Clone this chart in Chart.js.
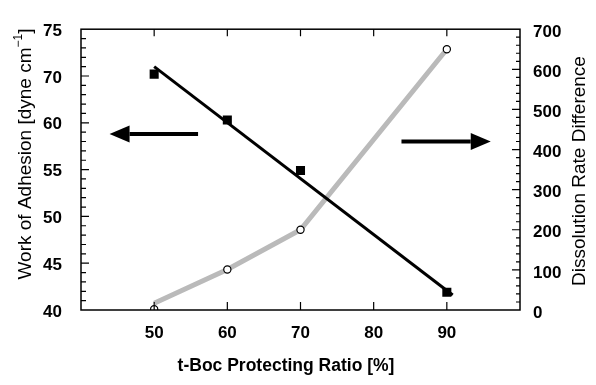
<!DOCTYPE html>
<html>
<head>
<meta charset="utf-8">
<script src="https://cdn.jsdelivr.net/npm/chart.js@4.4.0/dist/chart.umd.min.js"></script>
<style>
  html, body { margin: 0; padding: 0; background: #fff; }
</style>
</head>
<body>
<canvas id="plot" width="596" height="385"></canvas>
<script>
// t-Boc protecting ratio [%]
const ratio = [50, 60, 70, 90];
// work of adhesion, read against the left axis grid (40..70 in 6 steps)
const adhesion = [65.2, 60.3, 54.9, 41.9];
// straight fit through the adhesion points
const fitX = [50, 90.8];
const fitY = [66.0, 41.6];
// dissolution rate difference (right axis)
const dissolution = [2, 101, 200, 650];
const dissolutionLine = [17, 101, 200, 650];

// tick labels as printed in the figure
const xTicks = [50, 60, 70, 80, 90];
const leftTickLabels = ['40', '45', '50', '55', '60', '70', '75'];
const rightTickLabels = ['0', '100', '200', '300', '400', '500', '600', '700'];

const FONT = '"Liberation Sans", Arial, Helvetica, sans-serif';

let pts = (xs, ys) => xs.map((x, i) => ({x: x, y: ys[i]}));

// arrows pointing at the axis each series belongs to
const arrows = [
  {axis: 'y', tail: 56.0, tip: 43.9, at: 58.8},
  {axis: 'y2', tail: 83.8, tip: 96.0, at: 420}
];

let drawArrow = (ctx, x0, x1, y) => {
  let dir = x1 > x0 ? 1 : -1;
  let headLen = 20, headHalf = 8.5;
  ctx.beginPath();
  ctx.lineWidth = 4;
  ctx.moveTo(x0, y);
  ctx.lineTo(x1 - dir * headLen, y);
  ctx.stroke();
  ctx.beginPath();
  ctx.moveTo(x1, y);
  ctx.lineTo(x1 - dir * headLen, y - headHalf);
  ctx.lineTo(x1 - dir * headLen, y + headHalf);
  ctx.closePath();
  ctx.fill();
};

const frameAndTicks = {
  id: 'frameAndTicks',
  afterDatasetsDraw(chart) {
    const {ctx, chartArea: a, scales} = chart;
    const sx = scales.x, yl = scales.y, yr = scales.y2;
    ctx.save();
    ctx.strokeStyle = '#000';
    ctx.fillStyle = '#000';

    //marco
    ctx.lineWidth = 1.5;
    ctx.strokeRect(a.left, a.top, a.right - a.left, a.bottom - a.top);

    //marcas hacia adentro
    ctx.lineWidth = 1.2;
    ctx.beginPath();
    xTicks.forEach(v => {
      let px = sx.getPixelForValue(v);
      ctx.moveTo(px, a.bottom); ctx.lineTo(px, a.bottom - 8);
      ctx.moveTo(px, a.top); ctx.lineTo(px, a.top + 7);
    });
    for (let v = 41; v < 70; v++) {
      let py = yl.getPixelForValue(v);
      let len = v % 5 === 0 ? 8 : 5;
      ctx.moveTo(a.left, py); ctx.lineTo(a.left + len, py);
    }
    for (let v = 20; v < 700; v += 20) {
      let py = yr.getPixelForValue(v);
      let len = v % 100 === 0 ? 8 : 4;
      ctx.moveTo(a.right, py); ctx.lineTo(a.right - len, py);
    }
    ctx.stroke();

    //flechas
    arrows.forEach(ar => {
      let sc = scales[ar.axis];
      drawArrow(ctx, sx.getPixelForValue(ar.tail), sx.getPixelForValue(ar.tip), sc.getPixelForValue(ar.at));
    });

    //titulos de ejes
    ctx.textBaseline = 'middle';
    ctx.font = 'bold 17.5px ' + FONT;
    ctx.textAlign = 'center';
    ctx.fillText('t-Boc Protecting Ratio [%]', 286, 366);

    // left title with superscript
    ctx.save();
    ctx.translate(26, 154);
    ctx.rotate(-Math.PI / 2);
    let main = 'Work of Adhesion [dyne cm';
    let sup = '\u22121';
    let tail = ']';
    ctx.font = '19px ' + FONT;
    let wMain = ctx.measureText(main).width;
    let wTail = ctx.measureText(tail).width;
    ctx.font = '12px ' + FONT;
    let wSup = ctx.measureText(sup).width;
    let start = -(wMain + wSup + wTail) / 2;
    ctx.textAlign = 'left';
    ctx.font = '19px ' + FONT;
    ctx.fillText(main, start, 0);
    ctx.fillText(tail, start + wMain + wSup, 0);
    ctx.font = '12px ' + FONT;
    ctx.fillText(sup, start + wMain, -7);
    ctx.restore();

    ctx.save();
    ctx.translate(580, 171);
    ctx.rotate(-Math.PI / 2);
    ctx.textAlign = 'center';
    ctx.font = '19px ' + FONT;
    ctx.fillText('Dissolution Rate Difference', 0, 0);
    ctx.restore();

    ctx.restore();
  }
};

const tickFont = {family: FONT, size: 17, weight: 'bold'};

let config = {
  type: 'scatter',
  data: {
    datasets: [
      {
        label: 'Work of Adhesion',
        data: pts(ratio, adhesion),
        yAxisID: 'y',
        pointStyle: 'rect',
        pointRadius: 6.4,
        backgroundColor: '#000',
        borderColor: '#000',
        borderWidth: 0,
        showLine: false
      },
      {
        label: 'fit',
        data: pts(fitX, fitY),
        yAxisID: 'y',
        showLine: true,
        borderColor: '#000',
        borderWidth: 3,
        pointRadius: 0
      },
      {
        label: 'Dissolution Rate Difference',
        data: pts(ratio, dissolution),
        yAxisID: 'y2',
        pointStyle: 'circle',
        pointRadius: 3.6,
        backgroundColor: '#fff',
        borderColor: '#000',
        borderWidth: 1.2,
        showLine: false
      },
      {
        label: 'dissolution line',
        data: pts(ratio, dissolutionLine),
        yAxisID: 'y2',
        showLine: true,
        borderColor: '#bababa',
        borderWidth: 5,
        pointRadius: 0
      }
    ]
  },
  options: {
    responsive: false,
    animation: false,
    layout: {padding: {top: 15, left: 0, right: 0, bottom: 0}},
    plugins: {
      legend: {display: false},
      tooltip: {enabled: false}
    },
    scales: {
      x: {
        type: 'linear',
        min: 40,
        max: 100,
        grid: {display: false, drawTicks: false},
        border: {display: false},
        ticks: {
          stepSize: 10,
          padding: 13,
          color: '#000',
          font: tickFont,
          maxRotation: 0,
          callback: v => xTicks.includes(v) ? String(v) : ''
        },
        afterFit: s => { s.height = 75; }
      },
      y: {
        position: 'left',
        min: 40,
        max: 70,
        grid: {display: false, drawTicks: false},
        border: {display: false},
        ticks: {
          stepSize: 5,
          padding: 19,
          labelOffset: 2,
          color: '#000',
          font: tickFont,
          callback: (v, i) => leftTickLabels[i]
        },
        afterFit: s => { s.width = 81; }
      },
      y2: {
        position: 'right',
        min: 0,
        max: 700,
        grid: {display: false, drawTicks: false},
        border: {display: false},
        ticks: {
          stepSize: 100,
          padding: 13,
          labelOffset: 3,
          color: '#000',
          font: tickFont,
          callback: (v, i) => rightTickLabels[i]
        },
        afterFit: s => { s.width = 76; }
      }
    }
  },
  plugins: [frameAndTicks]
};

let chart1 = new Chart(document.getElementById('plot'), config);
</script>
</body>
</html>
